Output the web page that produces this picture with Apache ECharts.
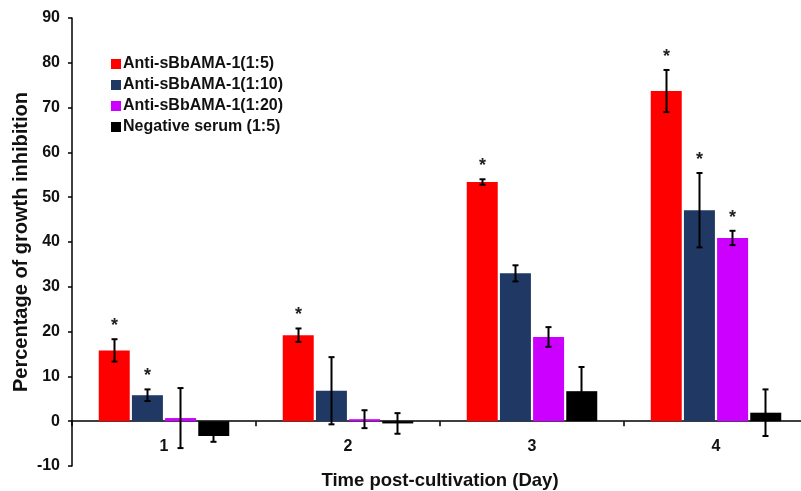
<!DOCTYPE html>
<html>
<head>
<meta charset="utf-8">
<script src="https://cdn.jsdelivr.net/npm/echarts@6/dist/echarts.min.js"></script>
<style>
  html, body { margin: 0; padding: 0; background: #fff; }
  #main { width: 801px; height: 491px; }
</style>
</head>
<body>
<div id="main"></div>
<script>
// data
var days = ['1', '2', '3', '4'];
var seriesNames = ['Anti-sBbAMA-1(1:5)', 'Anti-sBbAMA-1(1:10)', 'Anti-sBbAMA-1(1:20)', 'Negative serum (1:5)'];
var colors = ['#ff0000', '#203864', '#cc00ff', '#000000'];
var mean1to5   = [15.8, 19.2, 53.4, 73.7];
var mean1to10  = [5.8, 6.8, 33.0, 47.1];
var mean1to20  = [0.7, 0.45, 18.8, 40.9];
var meanNeg    = [-3.3, -0.5, 6.7, 1.9];
var sd1to5     = [2.5, 1.5, 0.6, 4.7];
var sd1to10    = [1.3, 7.5, 1.8, 8.3];
var sd1to20    = [6.7, 2.0, 2.2, 1.6];
var sdNeg      = [1.3, 2.3, 5.4, 5.2];
var sig1to5    = [1, 1, 1, 1];
var sig1to10   = [1, 0, 0, 1];
var sig1to20   = [0, 0, 0, 1];
var sigNeg     = [0, 0, 0, 0];

var means = [mean1to5, mean1to10, mean1to20, meanNeg];
var sds = [sd1to5, sd1to10, sd1to20, sdNeg];
var sigs = [sig1to5, sig1to10, sig1to20, sigNeg];

var FONT = 'Liberation Sans, Arial, sans-serif';
var chart = echarts.init(document.getElementById('main'));

// error bars + asterisk, placed over the k-th bar of each group
function errRender(k) {
  return function (params, api) {
    var i = api.value(0);
    var m = api.value(1), s = api.value(2), sig = api.value(3);
    var x = api.coord([i, m])[0] + (k - 1.5) * 33;
    var yt = api.coord([i, m + s])[1];
    var yb = api.coord([i, m - s])[1];
    var st = { stroke: '#000', lineWidth: 2 };
    var kids = [
      { type: 'line', shape: { x1: x, y1: yt, x2: x, y2: yb }, style: st },
      { type: 'line', shape: { x1: x - 3, y1: yt, x2: x + 3, y2: yt }, style: st },
      { type: 'line', shape: { x1: x - 3, y1: yb, x2: x + 3, y2: yb }, style: st }
    ];
    if (sig) {
      kids.push({ type: 'text', style: { text: '*', x: x, y: yt - 4, align: 'center', verticalAlign: 'bottom',
        font: 'bold 18px ' + FONT, fill: '#222' } });
    }
    return { type: 'group', children: kids };
  };
}

var series = [];
for (var k = 0; k < 4; k++) {
  series.push({
    name: seriesNames[k],
    type: 'bar',
    barWidth: 31,
    barGap: '7%',
    itemStyle: { color: colors[k] },
    data: means[k]
  });
}
for (var k2 = 0; k2 < 4; k2++) {
  var d = [];
  for (var i = 0; i < days.length; i++) d.push([i, means[k2][i], sds[k2][i], sigs[k2][i]]);
  series.push({
    type: 'custom',
    renderItem: errRender(k2),
    encode: { x: 0, y: 1 },
    clip: false,
    z: 5,
    silent: true,
    data: d
  });
}

chart.setOption({
  animation: false,
  textStyle: { fontFamily: FONT },
  legend: {
    orient: 'vertical',
    left: 106,
    top: 51,
    itemWidth: 10,
    itemHeight: 10,
    itemGap: 5,
    icon: 'rect',
    data: seriesNames,
    textStyle: { fontSize: 16, fontWeight: 'bold', color: '#111', fontFamily: FONT, padding: [0, 0, 0, -3] }
  },
  grid: { left: 72, top: 18, width: 736, height: 448, outerBoundsMode: 'none', containLabel: false },
  xAxis: {
    type: 'category',
    data: days,
    name: 'Time post-cultivation (Day)',
    nameLocation: 'middle',
    nameGap: 5,
    nameTextStyle: { fontSize: 18.5, fontWeight: 'bold', color: '#111', verticalAlign: 'top' },
    axisLine: { onZero: true, lineStyle: { color: '#000', width: 1.5 } },
    axisTick: { show: true, length: 5, lineStyle: { color: '#000', width: 1.5 } },
    axisLabel: { fontSize: 16, fontWeight: 'bold', color: '#111', margin: -27 }
  },
  yAxis: {
    type: 'value',
    min: -10,
    max: 90,
    interval: 10,
    name: 'Percentage of growth inhibition',
    nameLocation: 'middle',
    nameGap: 41,
    nameMoveOverlap: false,
    nameTextStyle: { fontSize: 20, fontWeight: 'bold', color: '#111' },
    splitLine: { show: false },
    axisLine: { show: true, lineStyle: { color: '#000', width: 1.5 } },
    axisTick: { show: true, length: 4, lineStyle: { color: '#000', width: 1.5 } },
    axisLabel: { fontSize: 16, fontWeight: 'bold', color: '#111', margin: 12 }
  },
  series: series
});
</script>
</body>
</html>
